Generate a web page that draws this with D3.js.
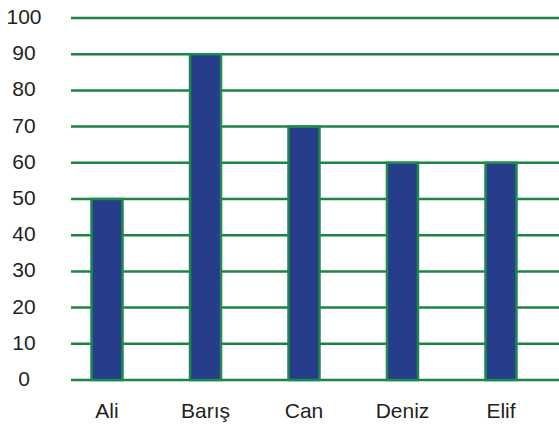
<!DOCTYPE html>
<html>
<head>
<meta charset="utf-8">
<script src="https://cdn.jsdelivr.net/npm/d3@7/dist/d3.min.js"></script>
<style>
  html, body { margin: 0; padding: 0; background: #ffffff; }
  svg { display: block; }
  text { font-family: "Liberation Sans", Arial, sans-serif; fill: #231f20; }
</style>
</head>
<body>
<svg id="chart" width="559" height="432"></svg>
<script>
const categories = ["Ali", "Barış", "Can", "Deniz", "Elif"];
const values = [50, 90, 70, 60, 60];
const yTicks = [0, 10, 20, 30, 40, 50, 60, 70, 80, 90, 100];

const svg = d3.select("#chart");
const W = 559, H = 432;
const plotLeft = 71, plotRight = 559;

const y = d3.scaleLinear().domain([0, 100]).range([380, 18]);
const x = d3.scalePoint().domain(categories).range([107, 501]);
const barW = 31;

// gridlines
svg.append("g").selectAll("line")
  .data(yTicks).join("line")
  .attr("x1", plotLeft).attr("x2", plotRight)
  .attr("y1", d => y(d)).attr("y2", d => y(d))
  .attr("stroke", "#1c8545").attr("stroke-width", 2.5);

// y labels
svg.append("g").selectAll("text")
  .data(yTicks).join("text")
  .attr("x", 24).attr("y", d => y(d) + 6)
  .attr("text-anchor", "middle")
  .attr("font-size", 21)
  .text(d => d);

// bars
svg.append("g").selectAll("rect")
  .data(values).join("rect")
  .attr("x", (d, i) => x(categories[i]) - barW / 2)
  .attr("width", barW)
  .attr("y", d => y(d))
  .attr("height", d => y(0) - y(d))
  .attr("fill", "#253d8b")
  .attr("stroke", "#1e8a4c")
  .attr("stroke-width", 2.5);

// x labels
svg.append("g").selectAll("text")
  .data(categories).join("text")
  .attr("x", d => x(d))
  .attr("y", 418)
  .attr("text-anchor", "middle")
  .attr("font-size", 21)
  .text(d => d);
</script>
</body>
</html>
